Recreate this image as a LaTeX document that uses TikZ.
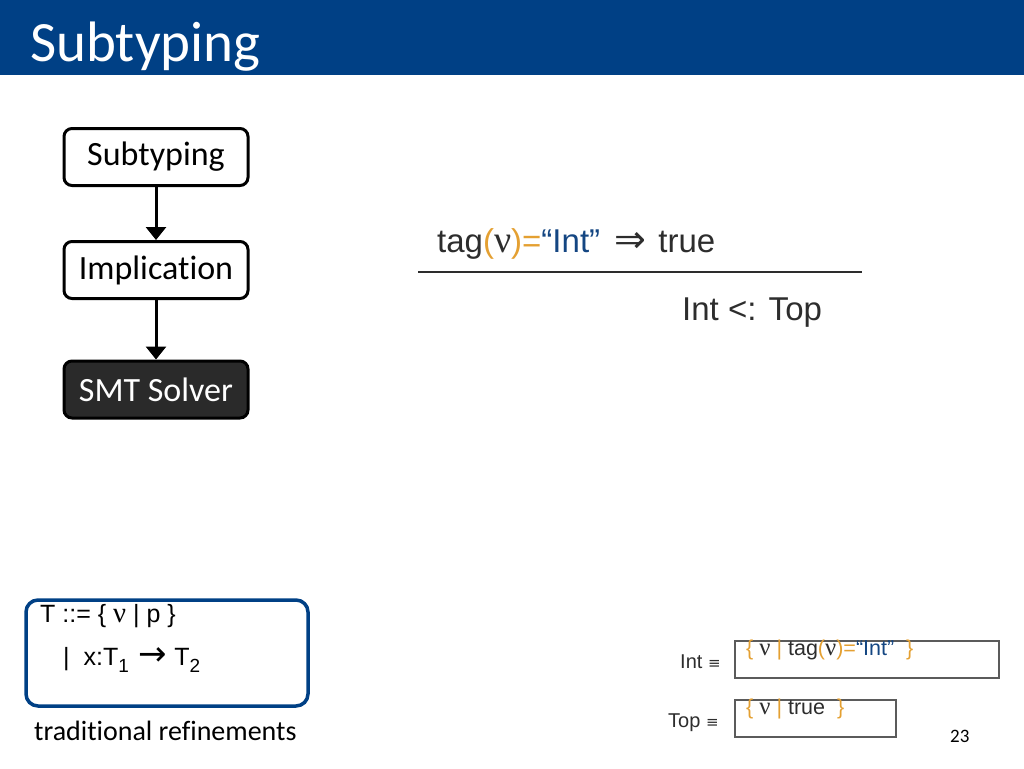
\documentclass[tikz,border=0pt]{standalone}
\usepackage{fontspec}
\setmainfont{Liberation Sans}
\newfontfamily\calfont[Ligatures=NoCommon]{Carlito}
\newfontfamily\serfont{Liberation Serif}
\newfontfamily\symfont{DejaVu Sans}
\usetikzlibrary{arrows.meta}
\definecolor{titleblue}{RGB}{0,64,133}
\definecolor{txt}{RGB}{45,45,45}
\definecolor{org}{RGB}{228,160,50}
\definecolor{blu}{RGB}{20,70,130}
\definecolor{dk}{RGB}{50,50,50}
\newcommand{\nuu}{\scalebox{1.15}{\serfont ν}}
\newcommand{\fs}[1]{\fontsize{#1}{#1}\selectfont}
\newcommand{\subs}[1]{\raisebox{-0.28em}{\fs{19}#1}}
\begin{document}
\begin{tikzpicture}[x=1pt,y=-1pt,
  flowbox/.style={draw=black,line width=3pt,rounded corners=8pt,minimum width=184pt,minimum height=57pt,inner sep=0pt,font=\calfont\fs{34}},
  flowarrow/.style={line width=3pt,-{Triangle[length=13pt,width=20pt]}},
  deftxt/.style={anchor=base west,inner sep=0pt,text=txt},
  defbox/.style={draw=dk!80,line width=1.5pt,inner sep=0pt}]
\useasboundingbox (0,0) rectangle (1024,768);
\fill[titleblue] (0,0) rectangle (1024,75);
\node[anchor=base west,inner sep=0pt,text=white,font=\calfont\fs{57}] (title) at (30,62) {Subtyping};

\node[flowbox,fill=white] (sub) at (156,157) {Subtyping};
\node[flowbox,fill=white] (imp) at (156,270) {Implication};
\node[flowbox,fill=dk!85!black,text=white] (smt) at (156,389.5) {SMT Solver};
\draw[flowarrow] (sub.south) -- (imp.north);
\draw[flowarrow] (imp.south) -- (smt.north);

\node[deftxt,font=\fs{33}] (prem) at (437,252) {tag\textcolor{org}{(}\nuu\textcolor{org}{)=}\textcolor{blu}{“Int”}\hspace{5pt} {\symfont\fs{38}⇒}\hspace{3pt} true};
\coordinate (lineL) at (418,272);
\coordinate (lineR) at (862,272);
\draw[line width=2.5pt,txt] (lineL) -- (lineR);
\node[deftxt,font=\fs{33}] (concl) at (682,320) {Int <: Top};

\draw[titleblue,line width=3.5pt,rounded corners=12pt] (26,600) rectangle (308,706);
\node[deftxt,font=\fs{25},text=black] (g1) at (40,622) {T ::= \{ \nuu\ | p \}};
\node[deftxt,font=\fs{25},text=black] (g2) at (63,665) {|\ \ x:T\subs{1}\hspace{3pt} {\symfont\fs{34}→} T\subs{2}};
\node[deftxt,font=\calfont\fs{28},text=black] (trad) at (34,740) {traditional refinements};

\node[defbox,minimum width=264pt,minimum height=37pt,anchor=north west] (intbox) at (734,640) {};
\node[defbox,minimum width=161pt,minimum height=37pt,anchor=north west] (topbox) at (734,699) {};
\node[deftxt,font=\fs{20}] (intdef) at (680,668) {Int {\symfont\fs{15}≡}};
\node[deftxt,font=\fs{20}] (topdef) at (668,727) {Top {\symfont\fs{15}≡}};
\node[deftxt,font=\fs{21.5}] (intref) at (746,655) {\textcolor{org}{\{} \nuu\ \textcolor{org}{|} tag\textcolor{org}{(}\nuu\textcolor{org}{)=}\textcolor{blu}{“Int”}\ \ \textcolor{org}{\}}};
\node[deftxt,font=\fs{21.5}] (topref) at (746,714) {\textcolor{org}{\{} \nuu\ \textcolor{org}{|} true \ \textcolor{org}{\}}};
\node[anchor=base west,inner sep=0pt,font=\calfont\fs{19},text=black] (pg) at (950,742) {23};
\end{tikzpicture}
\end{document}
